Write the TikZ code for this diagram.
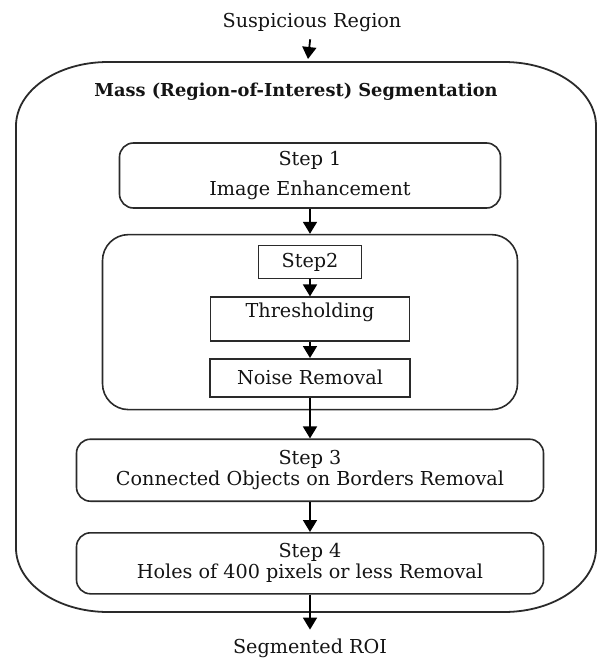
\documentclass[tikz,border=0pt]{standalone}
\usepackage{fontspec}
\setmainfont{DejaVu Serif}
\usetikzlibrary{positioning,arrows.meta}
\definecolor{edge}{HTML}{2A2A2A}
\definecolor{ink}{HTML}{141414}

\begin{document}
\begin{tikzpicture}[x=1pt, y=1pt, >={Triangle[width=7pt,length=6pt]},
    font=\fontsize{9.6}{10.5}\selectfont, text=ink,
    stepbox/.style={draw=edge, line width=0.8pt, rounded corners=7pt, align=center, inner sep=2pt, minimum width=233.5pt},
    subbox/.style={draw=edge, line width=0.8pt, align=center, inner sep=2pt},
    flow/.style={->, draw=black, line width=0.9pt}]
  \useasboundingbox (0,0) rectangle (299,-329.5);
  % outer frame, corners wider than tall
  \draw[draw=edge, line width=0.9pt] (8,-63) arc[start angle=180, end angle=90, x radius=46, y radius=32]
    -- (252,-31) arc[start angle=90, end angle=0, x radius=46, y radius=32]
    -- (298,-274) arc[start angle=0, end angle=-90, x radius=46, y radius=32]
    -- (54,-306) arc[start angle=270, end angle=180, x radius=46, y radius=32] -- cycle;
  \coordinate (frametop) at (154,-29.5);
  \node (susp) at (156,-11.5) {Suspicious Region};
  \node[font=\fontsize{8.9}{10.5}\selectfont\bfseries] (title) at (148,-46) {Mass (Region-of-Interest) Segmentation};

  \node[stepbox, minimum width=190.5pt, minimum height=32.5pt, font=\fontsize{9.6}{15}\selectfont] (step1) at (155,-87.75) {Step 1\\Image Enhancement};
  \node[stepbox, rounded corners=13pt, minimum width=207.5pt, minimum height=87.5pt, below=12.5pt of step1] (grp) {};
  \node[subbox, minimum width=51.5pt, minimum height=16.5pt, below=5.5pt of grp.north] (step2) {Step2};
  \node[subbox, minimum width=99.5pt, minimum height=22pt, text height=7pt, text depth=9pt, below=8.5pt of step2] (thresh) {Thresholding};
  \node[subbox, minimum width=100pt, minimum height=19pt, below=8pt of thresh] (noise) {Noise Removal};
  \node[stepbox, minimum height=31pt, below=14pt of grp] (step3) {Step 3\\Connected Objects on Borders Removal};
  \node[stepbox, minimum height=30.5pt, below=15pt of step3] (step4) {Step 4\\Holes of 400 pixels or less Removal};
  \node[inner sep=0pt, below=22pt of step4] (roi) {Segmented ROI};

  \draw[flow] (susp) -- (frametop);
  \draw[flow] (step1) -- (grp);
  \draw[flow] (step2) -- (thresh);
  \draw[flow] (thresh) -- (noise);
  \draw[flow] (noise) -- (step3);
  \draw[flow] (step3) -- (step4);
  \draw[flow, shorten >=4.5pt] (step4) -- (roi);
\end{tikzpicture}
\end{document}
